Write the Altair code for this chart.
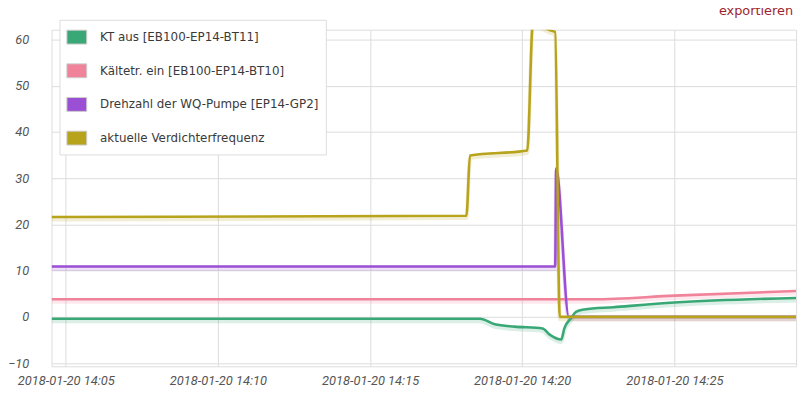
import altair as alt
import pandas as pd

series_names = [
    "KT aus [EB100-EP14-BT11]",
    "Kältetr. ein [EB100-EP14-BT10]",
    "Drehzahl der WQ-Pumpe [EP14-GP2]",
    "aktuelle Verdichterfrequenz",
]
series_colors = ["#3aa876", "#f0829a", "#9b4fd4", "#b8a31c"]

kt_times = ["14:04:32", "14:18:37", "14:19:06", "14:19:45", "14:20:40", "14:20:55",
            "14:21:17", "14:21:23", "14:21:37", "14:21:46", "14:22:02", "14:23:00",
            "14:25:00", "14:29:00"]
kt_values = [-0.4, -0.4, -1.6, -2.1, -2.5, -3.9, -4.9, -2.5, -0.2, 1.1, 1.6, 2.1, 3.1, 4.1]

kaelte_times = ["14:04:32", "14:22:20", "14:25:00", "14:29:00"]
kaelte_values = [3.8, 3.8, 4.6, 5.6]

pumpe_times = ["14:04:32", "14:21:05", "14:21:07", "14:21:32", "14:29:00"]
pumpe_values = [10.9, 10.9, 32.1, 0.0, 0.0]

verd_times = ["14:04:32", "14:18:10", "14:18:17", "14:20:10", "14:20:21", "14:20:55",
              "14:21:05", "14:21:14", "14:29:00"]
verd_values = [21.6, 21.9, 34.9, 36.0, 63.5, 62.0, 61.6, 0.0, 0.0]

y_ticks = [-10, 0, 10, 20, 30, 40, 50, 60]
x_tick_minutes = [5, 10, 15, 20, 25]
export_label = ["exportieren"]

rows = []
for name, ts, vs in zip(series_names,
                        [kt_times, kaelte_times, pumpe_times, verd_times],
                        [kt_values, kaelte_values, pumpe_values, verd_values]):
    for t, v in zip(ts, vs):
        rows.append({"series": name, "time": f"2018-01-20T{t}Z", "value": v})
df = pd.DataFrame(rows)

x_scale = alt.Scale(
    type="utc",
    domain=[alt.DateTime(year=2018, month=1, date=20, hours=14, minutes=4, seconds=32, utc=True),
            alt.DateTime(year=2018, month=1, date=20, hours=14, minutes=29, seconds=0, utc=True)],
)
y_scale = alt.Scale(domain=[-10.69, 62.13], nice=False, zero=False)
color_scale = alt.Scale(domain=series_names, range=series_colors)

x_axis = alt.Axis(
    values=[alt.DateTime(year=2018, month=1, date=20, hours=14, minutes=m, utc=True) for m in x_tick_minutes],
    labelExpr="utcFormat(datum.value, '%Y-%m-%d %H:%M')",
    title=None, grid=True, gridColor="#dcdcdc", domain=False, ticks=False,
    labelFont="Roboto", labelFontStyle="italic", labelFontSize=13, labelColor="#555555",
    labelPadding=8, labelOverlap=False,
)
y_axis = alt.Axis(
    values=y_ticks, title=None, grid=True, gridColor="#dcdcdc", domain=False, ticks=False,
    labelFont="Roboto", labelFontStyle="italic", labelFontSize=13, labelColor="#555555",
    labelPadding=23,
)

base = alt.Chart(df)

shadow = base.mark_line(clip=True, strokeWidth=4, opacity=0.18, yOffset=2.5,
                        interpolate="monotone").encode(
    x=alt.X("time:T", scale=x_scale, axis=x_axis),
    y=alt.Y("value:Q", scale=y_scale, axis=y_axis),
    color=alt.Color("series:N", scale=color_scale, legend=None),
)

lines = base.mark_line(clip=True, strokeWidth=2.6, interpolate="monotone").encode(
    x=alt.X("time:T", scale=x_scale, axis=x_axis),
    y=alt.Y("value:Q", scale=y_scale, axis=y_axis),
    color=alt.Color("series:N", scale=color_scale, legend=None),
)

legend_layer = base.mark_point(filled=True, opacity=0, clip=True).encode(
    x=alt.X("time:T", scale=x_scale, axis=x_axis),
    y=alt.Y("value:Q", scale=y_scale, axis=y_axis),
    color=alt.Color(
        "series:N", scale=color_scale, sort=series_names,
        legend=alt.Legend(
            title=None, orient="none", legendX=8, legendY=-10,
            symbolType="M-1,-0.7H1V0.7H-1Z", symbolSize=400, symbolOpacity=1,
            symbolStrokeColor="#cccccc", symbolStrokeWidth=1,
            labelFont="DejaVu Sans", labelFontSize=12, labelColor="#3a3a3a",
            labelOffset=13, rowPadding=14, padding=7,
            fillColor="white", strokeColor="#dddddd", labelLimit=400,
        ),
    ),
)

export_text = alt.Chart(pd.DataFrame({"label": export_label})).mark_text(
    align="right", baseline="alphabetic", font="DejaVu Sans", fontSize=13, color="#9e1f2d",
).encode(text="label:N", x=alt.value(749), y=alt.value(-15))

chart = alt.layer(shadow, lines, legend_layer, export_text).resolve_scale(color="independent").properties(
    width=752,
    height=340,
    padding={"left": 44, "top": 20, "right": 8, "bottom": 21},
    autosize=alt.AutoSizeParams(type="none"),
).configure_view(stroke="#c8c8c8").configure(background="white")

chart.save("out.html", embed_options={"renderer": "svg", "actions": False})
